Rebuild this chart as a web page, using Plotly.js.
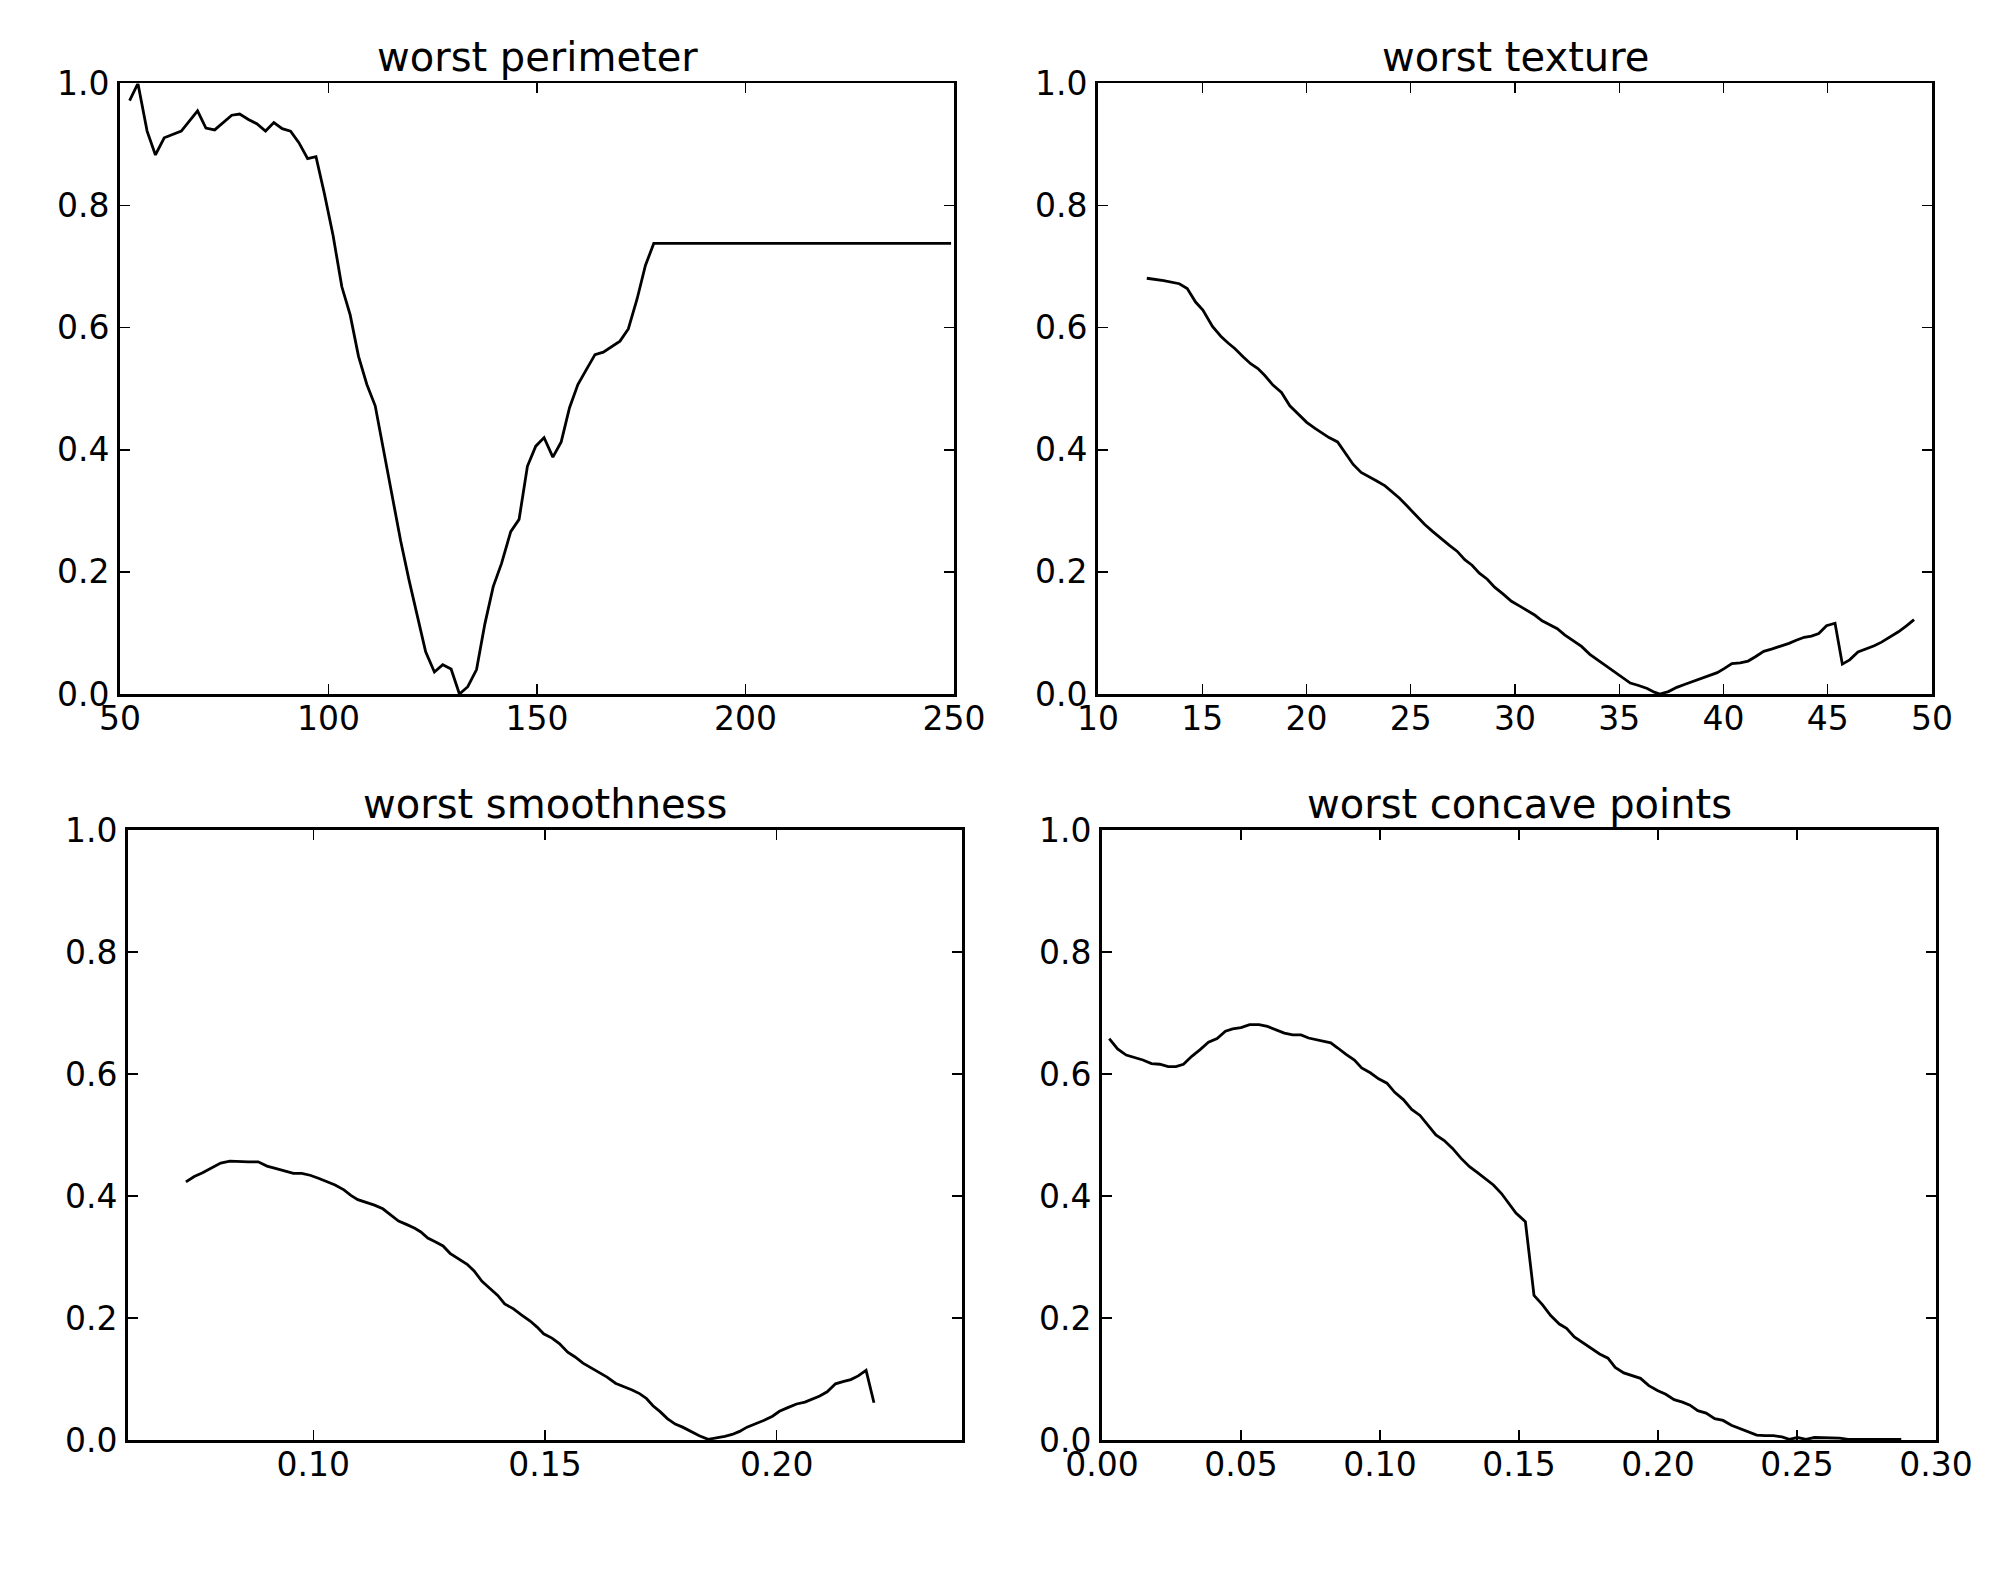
<!DOCTYPE html>
<html>
<head>
<meta charset="utf-8">
<script src="https://cdn.plot.ly/plotly-3.0.1.min.js"></script>
<style>
  html, body { margin: 0; padding: 0; background: #fff; }
  #plot { width: 2000px; height: 1572px; }
</style>
</head>
<body>
<div id="plot"></div>
<script>
// Partial dependence curves

var perimeterX = [52.3, 54.3, 56.5, 58.5, 60.6, 64.7, 68.6, 70.6, 72.7, 76.8, 78.7, 80.8, 82.8, 84.9,
  86.9, 88.9, 90.9, 92.9, 95.0, 97.0, 99.0, 101.1, 103.2, 105.2, 107.2, 109.2, 111.2, 113.3,
  115.3, 117.3, 119.3, 121.3, 123.3, 125.4, 127.4, 129.4, 131.4, 133.4, 135.5, 137.5, 139.5,
  141.5, 143.7, 145.7, 147.7, 149.7, 151.7, 153.8, 155.8, 157.8, 159.8, 161.8, 163.9, 165.9,
  167.9, 169.9, 171.9, 174.0, 176.0, 178.0, 249.3];
var perimeterY = [0.972, 1.0, 0.922, 0.883, 0.911, 0.922, 0.955, 0.927, 0.924, 0.948, 0.950, 0.941,
  0.934, 0.922, 0.936, 0.926, 0.922, 0.903, 0.877, 0.880, 0.820, 0.751, 0.667, 0.621, 0.553,
  0.507, 0.472, 0.397, 0.328, 0.251, 0.187, 0.130, 0.069, 0.036, 0.048, 0.041, 0.0, 0.012,
  0.040, 0.115, 0.176, 0.214, 0.266, 0.286, 0.373, 0.406, 0.420, 0.388, 0.413, 0.469, 0.507,
  0.531, 0.556, 0.560, 0.569, 0.578, 0.598, 0.647, 0.702, 0.738, 0.738];

var textureX = [12.34, 13.15, 13.90, 14.28, 14.68, 15.03, 15.49, 15.89, 16.24, 16.56, 16.97, 17.32,
  17.67, 17.99, 18.39, 18.80, 19.20, 19.60, 20.01, 20.41, 20.73, 21.08, 21.49, 21.89, 22.24,
  22.62, 23.02, 23.37, 23.77, 24.12, 24.45, 24.85, 25.25, 25.66, 26.06, 26.46, 26.87, 27.22,
  27.59, 27.94, 28.29, 28.67, 29.02, 29.42, 29.83, 30.23, 30.63, 30.96, 31.30, 31.71, 32.03,
  32.38, 32.78, 33.19, 33.59, 33.99, 34.40, 34.80, 35.15, 35.53, 35.93, 36.34, 36.68, 36.95,
  37.36, 37.76, 38.16, 38.57, 38.92, 39.29, 39.70, 40.05, 40.40, 40.80, 41.18, 41.53, 41.93,
  42.34, 42.74, 43.14, 43.49, 43.87, 44.22, 44.57, 44.94, 45.35, 45.70, 46.05, 46.45, 46.83,
  47.23, 47.58, 47.98, 48.39, 48.79, 49.14];
var textureY = [0.681, 0.677, 0.672, 0.664, 0.642, 0.629, 0.602, 0.586, 0.575, 0.566, 0.552, 0.541,
  0.533, 0.522, 0.506, 0.494, 0.472, 0.458, 0.445, 0.435, 0.428, 0.420, 0.413, 0.394, 0.376,
  0.363, 0.356, 0.349, 0.341, 0.331, 0.321, 0.307, 0.292, 0.278, 0.266, 0.254, 0.243, 0.234,
  0.220, 0.211, 0.198, 0.188, 0.175, 0.164, 0.152, 0.144, 0.136, 0.129, 0.120, 0.113, 0.107,
  0.097, 0.088, 0.078, 0.065, 0.055, 0.046, 0.035, 0.026, 0.018, 0.014, 0.009, 0.003, 0.0,
  0.004, 0.011, 0.016, 0.021, 0.026, 0.030, 0.035, 0.042, 0.050, 0.051, 0.054, 0.061, 0.070,
  0.074, 0.078, 0.083, 0.088, 0.093, 0.095, 0.099, 0.112, 0.116, 0.049, 0.056, 0.069, 0.074,
  0.079, 0.085, 0.093, 0.102, 0.112, 0.122];

var smoothX = [0.0725, 0.0743, 0.0761, 0.0779, 0.0800, 0.0820, 0.0842, 0.0860, 0.0881, 0.0900,
  0.0920, 0.0939, 0.0957, 0.0975, 0.0993, 0.1011, 0.1029, 0.1047, 0.1066, 0.1081, 0.1096,
  0.1114, 0.1132, 0.1150, 0.1166, 0.1184, 0.1202, 0.1219, 0.1232, 0.1247, 0.1263, 0.1280,
  0.1295, 0.1313, 0.1332, 0.1347, 0.1364, 0.1380, 0.1398, 0.1413, 0.1432, 0.1449, 0.1468,
  0.1483, 0.1497, 0.1515, 0.1531, 0.1549, 0.1565, 0.1582, 0.1600, 0.1616, 0.1634, 0.1652,
  0.1670, 0.1688, 0.1704, 0.1719, 0.1733, 0.1749, 0.1764, 0.1781, 0.1797, 0.1815, 0.1833,
  0.1852, 0.1870, 0.1888, 0.1904, 0.1920, 0.1936, 0.1954, 0.1972, 0.1991, 0.2006, 0.2024,
  0.2043, 0.2061, 0.2075, 0.2093, 0.2109, 0.2127, 0.2145, 0.2160, 0.2176, 0.2193, 0.2210];
var smoothY = [0.423, 0.432, 0.438, 0.445, 0.454, 0.457, 0.456, 0.456, 0.456, 0.449, 0.445, 0.441,
  0.437, 0.437, 0.434, 0.429, 0.423, 0.418, 0.410, 0.401, 0.394, 0.390, 0.385, 0.379, 0.370,
  0.359, 0.353, 0.347, 0.341, 0.331, 0.325, 0.318, 0.306, 0.297, 0.288, 0.277, 0.260, 0.249,
  0.237, 0.223, 0.215, 0.205, 0.195, 0.185, 0.174, 0.167, 0.158, 0.144, 0.136, 0.126, 0.118,
  0.111, 0.103, 0.093, 0.088, 0.082, 0.076, 0.068, 0.056, 0.046, 0.035, 0.026, 0.021, 0.014,
  0.007, 0.001, 0.003, 0.006, 0.009, 0.014, 0.021, 0.026, 0.032, 0.039, 0.047, 0.053, 0.059,
  0.062, 0.066, 0.072, 0.079, 0.092, 0.096, 0.099, 0.105, 0.114, 0.061];

var concaveX = [0.0026, 0.0056, 0.0087, 0.0121, 0.0147, 0.0178, 0.0208, 0.0238, 0.0266, 0.0293,
  0.0323, 0.0353, 0.0383, 0.0414, 0.0444, 0.0470, 0.0500, 0.0531, 0.0565, 0.0595, 0.0626,
  0.0656, 0.0686, 0.0716, 0.0743, 0.0773, 0.0803, 0.0823, 0.0847, 0.0878, 0.0908, 0.0934,
  0.0965, 0.0995, 0.1025, 0.1053, 0.1084, 0.1114, 0.1144, 0.1170, 0.1201, 0.1231, 0.1261,
  0.1291, 0.1322, 0.1352, 0.1382, 0.1408, 0.1437, 0.1463, 0.1489, 0.1523, 0.1554, 0.1584,
  0.1614, 0.1645, 0.1671, 0.1699, 0.1729, 0.1760, 0.1790, 0.1820, 0.1846, 0.1877, 0.1907,
  0.1937, 0.1967, 0.1998, 0.2028, 0.2058, 0.2088, 0.2115, 0.2143, 0.2173, 0.2204, 0.2234,
  0.2264, 0.2294, 0.2324, 0.2355, 0.2385, 0.2415, 0.2446, 0.2472, 0.2502, 0.2532, 0.2563,
  0.2593, 0.2623, 0.2653, 0.2684, 0.2875];
var concaveY = [0.658, 0.641, 0.631, 0.626, 0.623, 0.617, 0.616, 0.612, 0.612, 0.616, 0.629, 0.640,
  0.652, 0.658, 0.670, 0.674, 0.676, 0.681, 0.681, 0.678, 0.673, 0.667, 0.664, 0.664, 0.659,
  0.656, 0.654, 0.651, 0.643, 0.632, 0.623, 0.610, 0.602, 0.592, 0.585, 0.570, 0.558, 0.542,
  0.532, 0.517, 0.500, 0.491, 0.478, 0.462, 0.448, 0.438, 0.427, 0.418, 0.404, 0.387, 0.372,
  0.358, 0.237, 0.222, 0.204, 0.190, 0.183, 0.169, 0.160, 0.150, 0.141, 0.134, 0.119, 0.110,
  0.106, 0.101, 0.089, 0.081, 0.075, 0.066, 0.062, 0.057, 0.048, 0.044, 0.035, 0.032, 0.024,
  0.019, 0.013, 0.008, 0.007, 0.007, 0.005, 0.001, 0.004, 0.001, 0.004, 0.004, 0.004, 0.003,
  0.001, 0.001];

var titles = ["worst perimeter", "worst texture", "worst smoothness", "worst concave points"];

var lineStyle = {color: "black", width: 2.8};

var data = [
  {x: perimeterX, y: perimeterY, type: "scatter", mode: "lines", line: lineStyle, xaxis: "x", yaxis: "y"},
  {x: textureX, y: textureY, type: "scatter", mode: "lines", line: lineStyle, xaxis: "x2", yaxis: "y2"},
  {x: smoothX, y: smoothY, type: "scatter", mode: "lines", line: lineStyle, xaxis: "x3", yaxis: "y3"},
  {x: concaveX, y: concaveY, type: "scatter", mode: "lines", line: lineStyle, xaxis: "x4", yaxis: "y4"}
];

// matplotlib classic look: black frame, ticks inside on all four sides
function axisStyle(extra) {
  var base = {
    showline: true, mirror: "ticks", linecolor: "black", linewidth: 2.8,
    ticks: "inside", ticklen: 10, tickwidth: 1.4, tickcolor: "black",
    showgrid: false, zeroline: false, fixedrange: true,
    tickfont: {family: "DejaVu Sans", size: 33, color: "black"}
  };
  return Object.assign(base, extra);
}

var yStyle = {range: [0, 1], dtick: 0.2, tickformat: ".1f", ticklabelstandoff: 1};
var xStandoff = -6;

var topRow = [0.5585, 0.9469];
var bottomRow = [0.0840, 0.4720];

var layout = {
  width: 2000, height: 1572,
  margin: {l: 0, r: 0, t: 0, b: 0},
  paper_bgcolor: "white", plot_bgcolor: "white",
  showlegend: false,
  font: {family: "DejaVu Sans", color: "black"},
  xaxis: axisStyle({domain: [0.060, 0.477], anchor: "y", range: [50, 250], dtick: 50,
    ticklabelstandoff: xStandoff}),
  yaxis: axisStyle(Object.assign({domain: topRow, anchor: "x"}, yStyle)),
  xaxis2: axisStyle({domain: [0.549, 0.966], anchor: "y2", range: [10, 50], dtick: 5,
    ticklabelstandoff: xStandoff}),
  yaxis2: axisStyle(Object.assign({domain: topRow, anchor: "x2"}, yStyle)),
  xaxis3: axisStyle({domain: [0.064, 0.481], anchor: "y3", range: [0.06, 0.24],
    tickvals: [0.10, 0.15, 0.20], tickformat: ".2f", ticklabelstandoff: xStandoff}),
  yaxis3: axisStyle(Object.assign({domain: bottomRow, anchor: "x3"}, yStyle)),
  xaxis4: axisStyle({domain: [0.551, 0.968], anchor: "y4", range: [0, 0.30], dtick: 0.05,
    tickformat: ".2f", ticklabelstandoff: xStandoff}),
  yaxis4: axisStyle(Object.assign({domain: bottomRow, anchor: "x4"}, yStyle)),
  annotations: titles.map(function (t, i) {
    var n = i === 0 ? "" : String(i + 1);
    return {
      text: t, showarrow: false,
      xref: "x" + n + " domain", yref: "y" + n + " domain",
      x: 0.5, y: 1, xanchor: "center", yanchor: "bottom", yshift: 1,
      font: {family: "DejaVu Sans", size: 40, color: "black"}
    };
  })
};

Plotly.newPlot("plot", data, layout, {staticPlot: true});
</script>
</body>
</html>
